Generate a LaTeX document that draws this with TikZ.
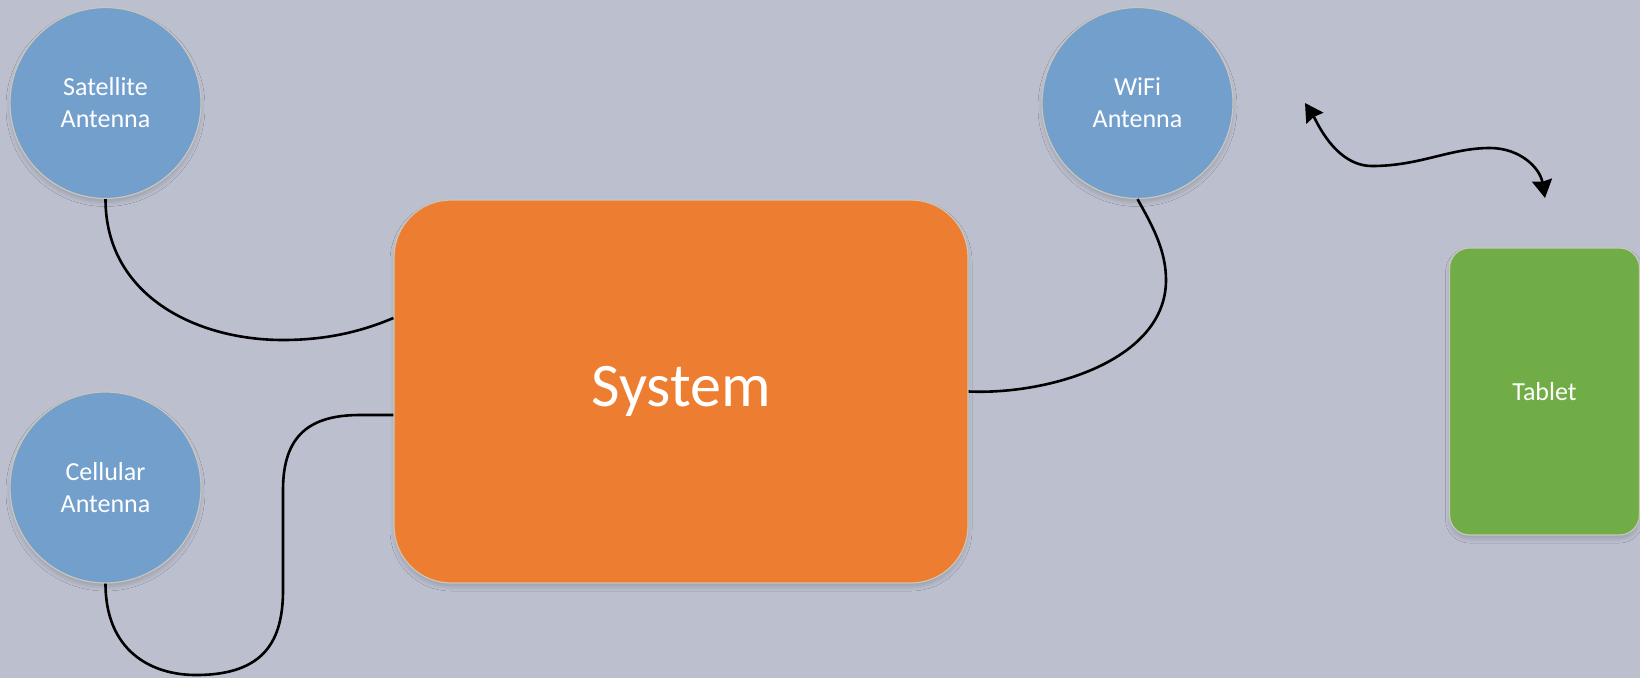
\documentclass[tikz,border=0pt]{standalone}
\usepackage{fontspec}
\setmainfont{Carlito}
\usetikzlibrary{arrows.meta,shadows.blur}
\definecolor{bg}{HTML}{BBBFCE}
\definecolor{antblue}{HTML}{739FCD}
\definecolor{sysorange}{HTML}{ED7D31}
\definecolor{tabgreen}{HTML}{70AD47}
\definecolor{edgecol}{HTML}{CBC6BC}
\begin{document}
\begin{tikzpicture}[x=1pt,y=-1pt,
  shapeshadow/.style={blur shadow={shadow xshift=0pt,shadow yshift=-4pt,shadow blur radius=4pt,shadow opacity=15}},
  ant/.style={circle,fill=antblue,draw=edgecol,line width=1.2pt,minimum size=191pt,inner sep=0pt,
    text=white,align=center,font=\fontsize{26}{32}\selectfont,shapeshadow},
  sysbox/.style={rectangle,rounded corners=57pt,fill=sysorange,draw=edgecol,line width=1.2pt,
    minimum width=574pt,minimum height=383pt,inner sep=0pt,text=white,font=\fontsize{62}{74}\selectfont,shapeshadow},
  tabbox/.style={rectangle,rounded corners=20pt,fill=tabgreen,draw=edgecol,line width=1.2pt,
    minimum width=190pt,minimum height=287pt,inner sep=0pt,text=white,font=\fontsize{26}{32}\selectfont,shapeshadow},
  cable/.style={line width=2.6pt,black},
  link/.style={cable,{Stealth[length=18pt,width=20pt,inset=1.5pt]}-{Stealth[length=18pt,width=20pt,inset=1.5pt]}}]
\fill[bg] (0,0) rectangle (1640,678);
\useasboundingbox (0,0) rectangle (1640,678);

\node[ant] (sat) at (105.5,103) {Satellite\\Antenna};
\node[ant] (cell) at (105.5,487.5) {Cellular\\Antenna};
\node[ant] (wifi) at (1137.5,103) {WiFi\\Antenna};
\node[sysbox] (sys) at (681,391.5) {System};
\node[tabbox] (tab) at (1544.5,391.5) {Tablet};

\coordinate (wa) at (1305,103);
\coordinate (wb) at (1545,198);

\draw[cable] (sat.south) .. controls (105.5,295) and (195,340) .. (283,340)
  .. controls (330,340) and (365,330) .. ([yshift=73.5pt]sys.west);
\draw[cable] (cell.south) .. controls (105.5,650) and (150,675) .. (196,675)
  .. controls (265,675) and (283,640) .. (283,590) -- (283,490)
  .. controls (283,435) and (310,415) .. (360,415) -- ([yshift=-23.5pt]sys.west);
\draw[cable] (wifi.south) .. controls (1152,225) and (1166,250) .. (1166,280)
  .. controls (1166,360) and (1050,395) .. (sys.east);
\draw[link] (wa) .. controls (1316,120) and (1335,166) .. (1372,166)
  .. controls (1420,166) and (1450,148) .. (1490,148)
  .. controls (1520,148) and (1540,168) .. (wb);
\end{tikzpicture}
\end{document}
